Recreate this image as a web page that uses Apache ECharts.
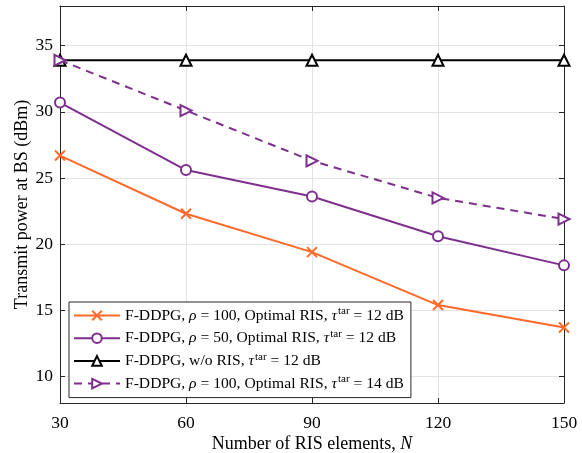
<!DOCTYPE html>
<html><head><meta charset="utf-8">
<script src="https://cdn.jsdelivr.net/npm/echarts@6/dist/echarts.min.js"></script>
<style>html,body{margin:0;padding:0;background:#fff}#c{width:582px;height:453px}</style>
</head><body><div id="c"></div>
<script>
const xValues = [30, 60, 90, 120, 150];
const yTicks = [10, 15, 20, 25, 30, 35];
const sOrange = [26.7, 22.3, 19.4, 15.4, 13.7];
const sPurple = [30.7, 25.6, 23.6, 20.6, 18.4];
const sBlack = [33.9, 33.9, 33.9, 33.9, 33.9];
const sDashed = [33.9, 30.1, 26.3, 23.5, 21.9];
const names = [
  'F-DDPG, ρ = 100, Optimal RIS, τtar = 12 dB',
  'F-DDPG, ρ = 50, Optimal RIS, τtar = 12 dB',
  'F-DDPG, w/o RIS, τtar = 12 dB',
  'F-DDPG, ρ = 100, Optimal RIS, τtar = 14 dB'
];
const richNames = [
  '{a|F-DDPG, }{i|ρ}{a| = 100, Optimal RIS, }{i|τ}{s|tar}{a| = 12 dB}',
  '{a|F-DDPG, }{i|ρ}{a| = 50, Optimal RIS, }{i|τ}{s|tar}{a| = 12 dB}',
  '{a|F-DDPG, w/o RIS, }{i|τ}{s|tar}{a| = 12 dB}',
  '{a|F-DDPG, }{i|ρ}{a| = 100, Optimal RIS, }{i|τ}{s|tar}{a| = 14 dB}'
];
const pair = a => a.map((v, i) => [xValues[i], v]);
const FONT = 'Liberation Serif';
const axisCol = '#262626';
const chart = echarts.init(document.getElementById('c'));
const xMark = 'path://M0,0L10,10M10,0L0,10';
const orange = '#ff6929', purple = '#7e2f8e';
const LF = 15.6;
chart.setOption({
  animation: false,
  grid: {left: 60, right: 18, top: 6, bottom: 50, outerBoundsMode: 'none', containLabel: false},
  legend: {
    orient: 'vertical', left: 69, top: 302,
    backgroundColor: '#fff', borderColor: axisCol, borderWidth: 1,
    padding: [4, 7, 4.5, 4], itemGap: 3.7, itemWidth: 46, itemHeight: 12,
    data: names,
    formatter: n => richNames[names.indexOf(n)],
    textStyle: {
      fontFamily: FONT, fontSize: LF, color: '#000',
      rich: {
        a: {fontFamily: FONT, fontSize: LF, color: '#000', lineHeight: 18},
        i: {fontFamily: FONT, fontSize: LF, fontStyle: 'italic', color: '#000', lineHeight: 18},
        s: {fontFamily: FONT, fontSize: 11, color: '#000', lineHeight: 12, padding: [0, 0, 8, 1]}
      }
    }
  },
  xAxis: [{
    type: 'value', min: 30, max: 150, interval: 30,
    name: '{a|Number of RIS elements, }{i|N}', nameLocation: 'middle', nameGap: 32, nameMoveOverlap: false,
    nameTextStyle: {fontFamily: FONT, fontSize: 18, color: '#000',
      rich: {a: {fontFamily: FONT, fontSize: 18, color: '#000'},
             i: {fontFamily: FONT, fontSize: 18, fontStyle: 'italic', color: '#000'}}},
    axisLine: {lineStyle: {color: axisCol, width: 1}},
    axisTick: {inside: true, length: 5, lineStyle: {color: axisCol}},
    axisLabel: {fontFamily: FONT, fontSize: 17.5, color: '#000', margin: 11},
    splitLine: {show: true, lineStyle: {color: '#e3e3e3', width: 1}}
  }, {
    type: 'value', min: 30, max: 150, interval: 30, position: 'top',
    axisLine: {lineStyle: {color: axisCol, width: 1}},
    axisTick: {inside: true, length: 5, lineStyle: {color: axisCol}},
    axisLabel: {show: false}, splitLine: {show: false}
  }],
  yAxis: [{
    type: 'value', min: 8, max: 38,
    name: 'Transmit power at BS (dBm)', nameLocation: 'middle', nameGap: 29, nameMoveOverlap: false,
    nameTextStyle: {fontFamily: FONT, fontSize: 18, color: '#000'},
    axisLine: {show: true, lineStyle: {color: axisCol, width: 1}},
    axisTick: {show: true, inside: true, length: 5, lineStyle: {color: axisCol}, customValues: yTicks},
    axisLabel: {fontFamily: FONT, fontSize: 17.5, color: '#000', margin: 7, customValues: yTicks},
    splitLine: {show: true, lineStyle: {color: '#e3e3e3', width: 1}}
  }, {
    type: 'value', min: 8, max: 38, position: 'right',
    axisLine: {show: true, lineStyle: {color: axisCol, width: 1}},
    axisTick: {show: true, inside: true, length: 5, lineStyle: {color: axisCol}, customValues: yTicks},
    axisLabel: {show: false}, splitLine: {show: false}
  }],
  series: [
    {name: names[0], type: 'line', data: pair(sOrange), symbol: xMark, symbolSize: 10,
     lineStyle: {color: orange, width: 2}, itemStyle: {color: orange, borderColor: orange, borderWidth: 2}, z: 4},
    {name: names[1], type: 'line', data: pair(sPurple), symbol: 'emptyCircle', symbolSize: 10,
     lineStyle: {color: purple, width: 2}, itemStyle: {color: purple, borderColor: purple, borderWidth: 2}, z: 3},
    {name: names[2], type: 'line', data: pair(sBlack), symbol: 'emptyTriangle', symbolSize: 11,
     lineStyle: {color: '#000', width: 2}, itemStyle: {color: '#000', borderColor: '#000', borderWidth: 2.4}, z: 2},
    {name: names[3], type: 'line', data: pair(sDashed), symbol: 'emptyTriangle', symbolSize: 11, symbolRotate: -90,
     lineStyle: {color: purple, width: 2, type: [8, 6]}, itemStyle: {color: purple, borderColor: purple, borderWidth: 2}, z: 5}
  ]
});
</script></body></html>
